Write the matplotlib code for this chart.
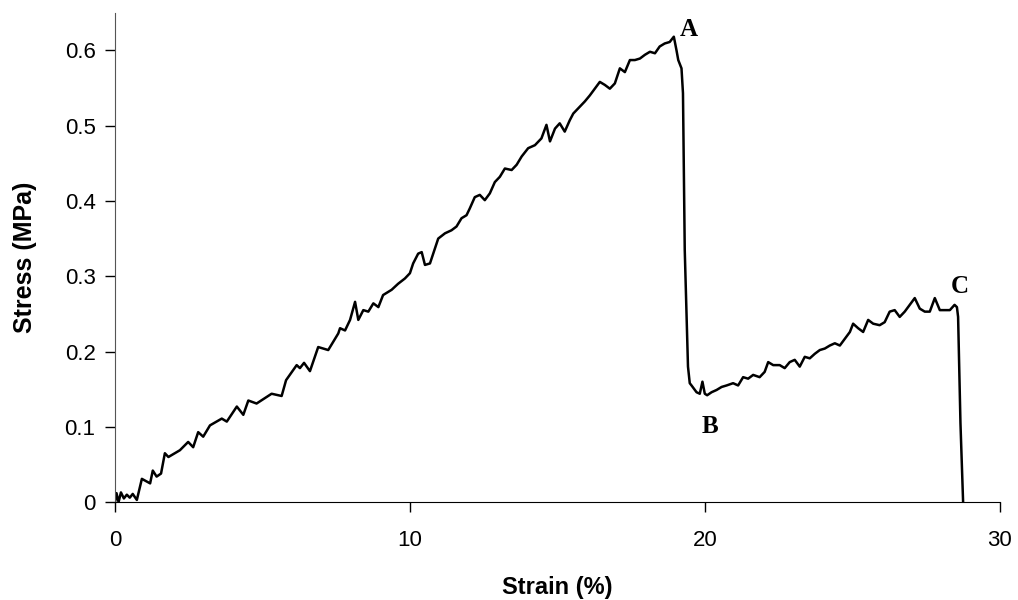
import matplotlib
matplotlib.use("Agg")
from matplotlib import pyplot as plt

# strain (%) and stress (MPa)
strain = [0.0, 0.05, 0.12, 0.2, 0.3, 0.4, 0.5, 0.6, 0.74, 0.91, 1.19, 1.28, 1.41,
          1.56, 1.69, 1.81, 2.20, 2.48, 2.65, 2.82, 2.99, 3.22, 3.62, 3.79, 4.13,
          4.35, 4.52, 4.80, 5.31, 5.65, 5.80, 6.16, 6.27, 6.41, 6.61, 6.89, 7.23,
          7.57, 7.63, 7.80, 7.97, 8.14, 8.25, 8.42, 8.59, 8.76, 8.93, 9.09, 9.38,
          9.60, 9.83, 10.0, 10.11, 10.28, 10.40, 10.51, 10.68, 10.85, 10.96, 11.19,
          11.41, 11.58, 11.75, 11.92, 12.03, 12.20, 12.37, 12.54, 12.71, 12.88,
          13.05, 13.22, 13.45, 13.62, 13.79, 14.01, 14.24, 14.46, 14.63, 14.75,
          14.92, 15.08, 15.25, 15.42, 15.54, 15.71, 15.93, 16.10, 16.27, 16.44,
          16.61, 16.78, 16.95, 17.12, 17.29, 17.46, 17.63, 17.80, 17.97, 18.14,
          18.31, 18.47, 18.64, 18.81, 18.95, 19.04, 19.10, 19.21, 19.26, 19.29,
          19.32, 19.43, 19.49, 19.55, 19.72, 19.83, 19.92, 20.0, 20.08, 20.23,
          20.40, 20.57, 20.74, 20.96, 21.13, 21.30, 21.47, 21.64, 21.86, 22.03,
          22.15, 22.32, 22.54, 22.71, 22.88, 23.05, 23.22, 23.39, 23.56, 23.73,
          23.90, 24.07, 24.24, 24.41, 24.58, 24.75, 24.92, 25.03, 25.20, 25.37,
          25.54, 25.71, 25.93, 26.10, 26.27, 26.44, 26.61, 26.78, 26.95, 27.12,
          27.29, 27.46, 27.63, 27.80, 27.97, 28.14, 28.31, 28.47, 28.55, 28.59,
          28.67, 28.76]
stress = [0.0, 0.012, 0.0, 0.013, 0.005, 0.010, 0.006, 0.011, 0.003, 0.031, 0.025,
          0.042, 0.034, 0.038, 0.065, 0.060, 0.069, 0.080, 0.073, 0.093, 0.087,
          0.102, 0.111, 0.107, 0.127, 0.116, 0.135, 0.131, 0.144, 0.141, 0.162,
          0.182, 0.178, 0.185, 0.174, 0.206, 0.202, 0.224, 0.231, 0.228, 0.242,
          0.266, 0.242, 0.255, 0.253, 0.264, 0.259, 0.275, 0.282, 0.290, 0.297,
          0.304, 0.317, 0.330, 0.332, 0.315, 0.317, 0.337, 0.350, 0.357, 0.361,
          0.366, 0.377, 0.381, 0.390, 0.405, 0.408, 0.401, 0.410, 0.425, 0.432,
          0.443, 0.441, 0.448, 0.459, 0.470, 0.474, 0.483, 0.501, 0.479, 0.496,
          0.503, 0.492, 0.507, 0.516, 0.523, 0.532, 0.540, 0.549, 0.558, 0.554,
          0.549, 0.556, 0.576, 0.571, 0.587, 0.587, 0.589, 0.594, 0.598, 0.596,
          0.605, 0.609, 0.611, 0.618, 0.600, 0.587, 0.576, 0.543, 0.441, 0.335,
          0.180, 0.158, 0.155, 0.146, 0.144, 0.160, 0.144, 0.142, 0.146, 0.149,
          0.153, 0.155, 0.158, 0.155, 0.166, 0.164, 0.169, 0.166, 0.173, 0.186,
          0.182, 0.182, 0.178, 0.186, 0.189, 0.180, 0.193, 0.191, 0.197, 0.202,
          0.204, 0.208, 0.211, 0.208, 0.217, 0.226, 0.237, 0.231, 0.226, 0.242,
          0.237, 0.235, 0.239, 0.253, 0.255, 0.246, 0.253, 0.262, 0.271, 0.257,
          0.253, 0.253, 0.271, 0.255, 0.255, 0.255, 0.262, 0.259, 0.246, 0.105,
          0.0]

point_labels = ["A", "B", "C"]
point_x = [19.46, 20.17, 28.64]
point_y = [0.628, 0.100, 0.287]

x_ticks = [0, 10, 20, 30]
y_ticks = [0, 0.1, 0.2, 0.3, 0.4, 0.5, 0.6]

plt.rcParams['font.family'] = ['Liberation Sans', 'DejaVu Sans']

fig = plt.figure(figsize=(10.18, 6.0), dpi=100)
ax = fig.add_axes([0.113, 0.163, 0.869, 0.816])

ax.plot(strain, stress, color="black", linewidth=1.8)

for lab, px, py in zip(point_labels, point_x, point_y):
    ax.text(px, py, lab, family="Liberation Serif", fontweight="bold",
            fontsize=18, ha="center", va="center")

ax.set_xlim(0, 30)
ax.set_ylim(0, 0.65)
ax.set_xticks(x_ticks)
ax.set_yticks(y_ticks)
ax.set_yticklabels(["0", "0.1", "0.2", "0.3", "0.4", "0.5", "0.6"])
ax.tick_params(direction="out", length=7, width=1, labelsize=16, pad=7)
ax.tick_params(axis="x", pad=13)

ax.spines["top"].set_visible(False)
ax.spines["right"].set_visible(False)
ax.spines["left"].set_color("#555555")

ax.set_xlabel("Strain (%)", fontsize=17, fontweight="bold", labelpad=18)
ax.set_ylabel("Stress (MPa)", fontsize=18, fontweight="bold", labelpad=20)

fig.savefig("out.png", dpi=100)
plt.close()
